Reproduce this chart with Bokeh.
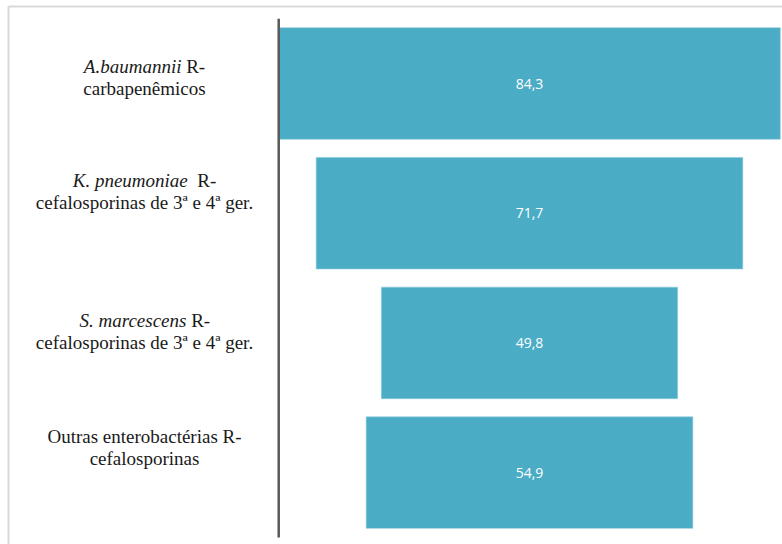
from bokeh.plotting import figure
from bokeh.models import ColumnDataSource, Range1d
from bokeh.core.properties import value
from bokeh.embed import file_html
from bokeh.resources import INLINE

# ---------------- data ----------------
label_italic = ["A.baumannii", "K. pneumoniae", "S. marcescens", ""]
label_rest = [" R-", "  R-", " R-", "Outras enterobactérias R-"]
label_line2 = ["carbapenêmicos",
               "cefalosporinas de 3ª e 4ª ger.",
               "cefalosporinas de 3ª e 4ª ger.",
               "cefalosporinas"]
values = [84.3, 71.7, 49.8, 54.9]

# ---------------- layout ----------------
W, H = 782, 544
PPU = 5.95            # px per value unit (horizontal)
PITCH = 129.7         # px between bar centres
CENTER_PX = 529       # horizontal centre of the funnel
TOP_CENTER_PX = 83    # vertical centre of the first bar
BAR_H = 0.86
LABEL_CENTER_PX = 144
FONT_PX = 19
LINE_GAP = 22
label_dy = [-17, -32.5, -22, -36]   # first label line, px from bar centre

def px_to_x(px):
    return (px - CENTER_PX) / PPU

def px_to_y(py):
    return (py - TOP_CENTER_PX) / PITCH

# Times / Liberation Serif advance widths (1/1000 em)
ROMAN = {" ": 250, "-": 333, ".": 250, "R": 667, "O": 722, "A": 722, "K": 722, "S": 556,
         "a": 444, "b": 500, "c": 444, "d": 500, "e": 444, "f": 333, "g": 500, "h": 500,
         "i": 278, "l": 278, "m": 778, "n": 500, "o": 500, "p": 500, "r": 333, "s": 389,
         "t": 278, "u": 500, "é": 444, "ê": 444, "ª": 276}
ITALIC = {" ": 250, ".": 250, "A": 611, "K": 667, "S": 500, "a": 500, "b": 500, "c": 444,
          "e": 444, "i": 278, "m": 722, "n": 500, "o": 500, "p": 500, "r": 389, "s": 389,
          "u": 500}

def tw(s, table):
    return sum(table.get(c, 500) for c in s) / 1000 * FONT_PX

n = len(values)
idx = list(range(n))
axis_x = -max(values) / 2

bars = ColumnDataSource(dict(
    y=idx,
    left=[-v / 2 for v in values],
    right=[v / 2 for v in values],
    txt=[f"{v:.1f}".replace(".", ",") for v in values],
    zero=[0.0] * n,
))

lx = px_to_x(LABEL_CENTER_PX)
it_off, rest_off, rest_txt = [], [], []
for a, b in zip(label_italic, label_rest):
    wa = tw(a, ITALIC)
    wb = tw(b, ROMAN)
    split = (wa - wb) / 2
    stripped = b.lstrip()
    lead = tw(b[: len(b) - len(stripped)], ROMAN)
    it_off.append(split)
    rest_off.append(split + lead)
    rest_txt.append(stripped)

labels = ColumnDataSource(dict(
    x=[lx] * n,
    y=idx,
    it=label_italic,
    rest=rest_txt,
    l2=label_line2,
    it_off=it_off,
    rest_off=rest_off,
    dy1=label_dy,
    dy2=[d + LINE_GAP for d in label_dy],
))

p = figure(width=W, height=H, output_backend="svg", toolbar_location=None,
           x_range=Range1d(px_to_x(0), px_to_x(W)),
           y_range=Range1d(px_to_y(H), px_to_y(0)),
           x_axis_location=None, y_axis_location=None,
           min_border=0, min_border_left=0, min_border_right=0,
           min_border_top=0, min_border_bottom=0)
p.grid.visible = False
p.outline_line_color = None
p.background_fill_color = "white"
p.border_fill_color = "white"

# page border (light grey, top and left)
p.segment(x0=[px_to_x(8), px_to_x(8)], y0=[px_to_y(6), px_to_y(6)],
          x1=[px_to_x(W + 5), px_to_x(8)], y1=[px_to_y(6), px_to_y(H + 5)],
          line_color="#d9d9d9", line_width=2)

# bars
p.hbar(y="y", left="left", right="right", height=BAR_H, source=bars,
       fill_color="#4BACC6", line_color="#8fcbdc", line_width=0.6)

# value labels
p.text(x="zero", y="y", text="txt", source=bars, text_color="white",
       text_font=value("Open Sans"), text_font_size="14px",
       text_align="center", text_baseline="middle")

# vertical axis line
p.segment(x0=[axis_x], y0=[-0.5], x1=[axis_x], y1=[n - 0.5],
          line_color="#595959", line_width=2.5)

# category labels
p.text(x="x", y="y", text="it", source=labels, x_offset="it_off", y_offset="dy1",
       text_font=value("Liberation Serif"), text_font_style="italic",
       text_font_size=f"{FONT_PX}px", text_color="#1a1a1a",
       text_align="right", text_baseline="alphabetic")
p.text(x="x", y="y", text="rest", source=labels, x_offset="rest_off", y_offset="dy1",
       text_font=value("Liberation Serif"), text_font_size=f"{FONT_PX}px",
       text_color="#1a1a1a", text_align="left", text_baseline="alphabetic")
p.text(x="x", y="y", text="l2", source=labels, y_offset="dy2",
       text_font=value("Liberation Serif"), text_font_size=f"{FONT_PX}px",
       text_color="#1a1a1a", text_align="center", text_baseline="alphabetic")

open("out.html", "w").write(file_html(p, INLINE))
